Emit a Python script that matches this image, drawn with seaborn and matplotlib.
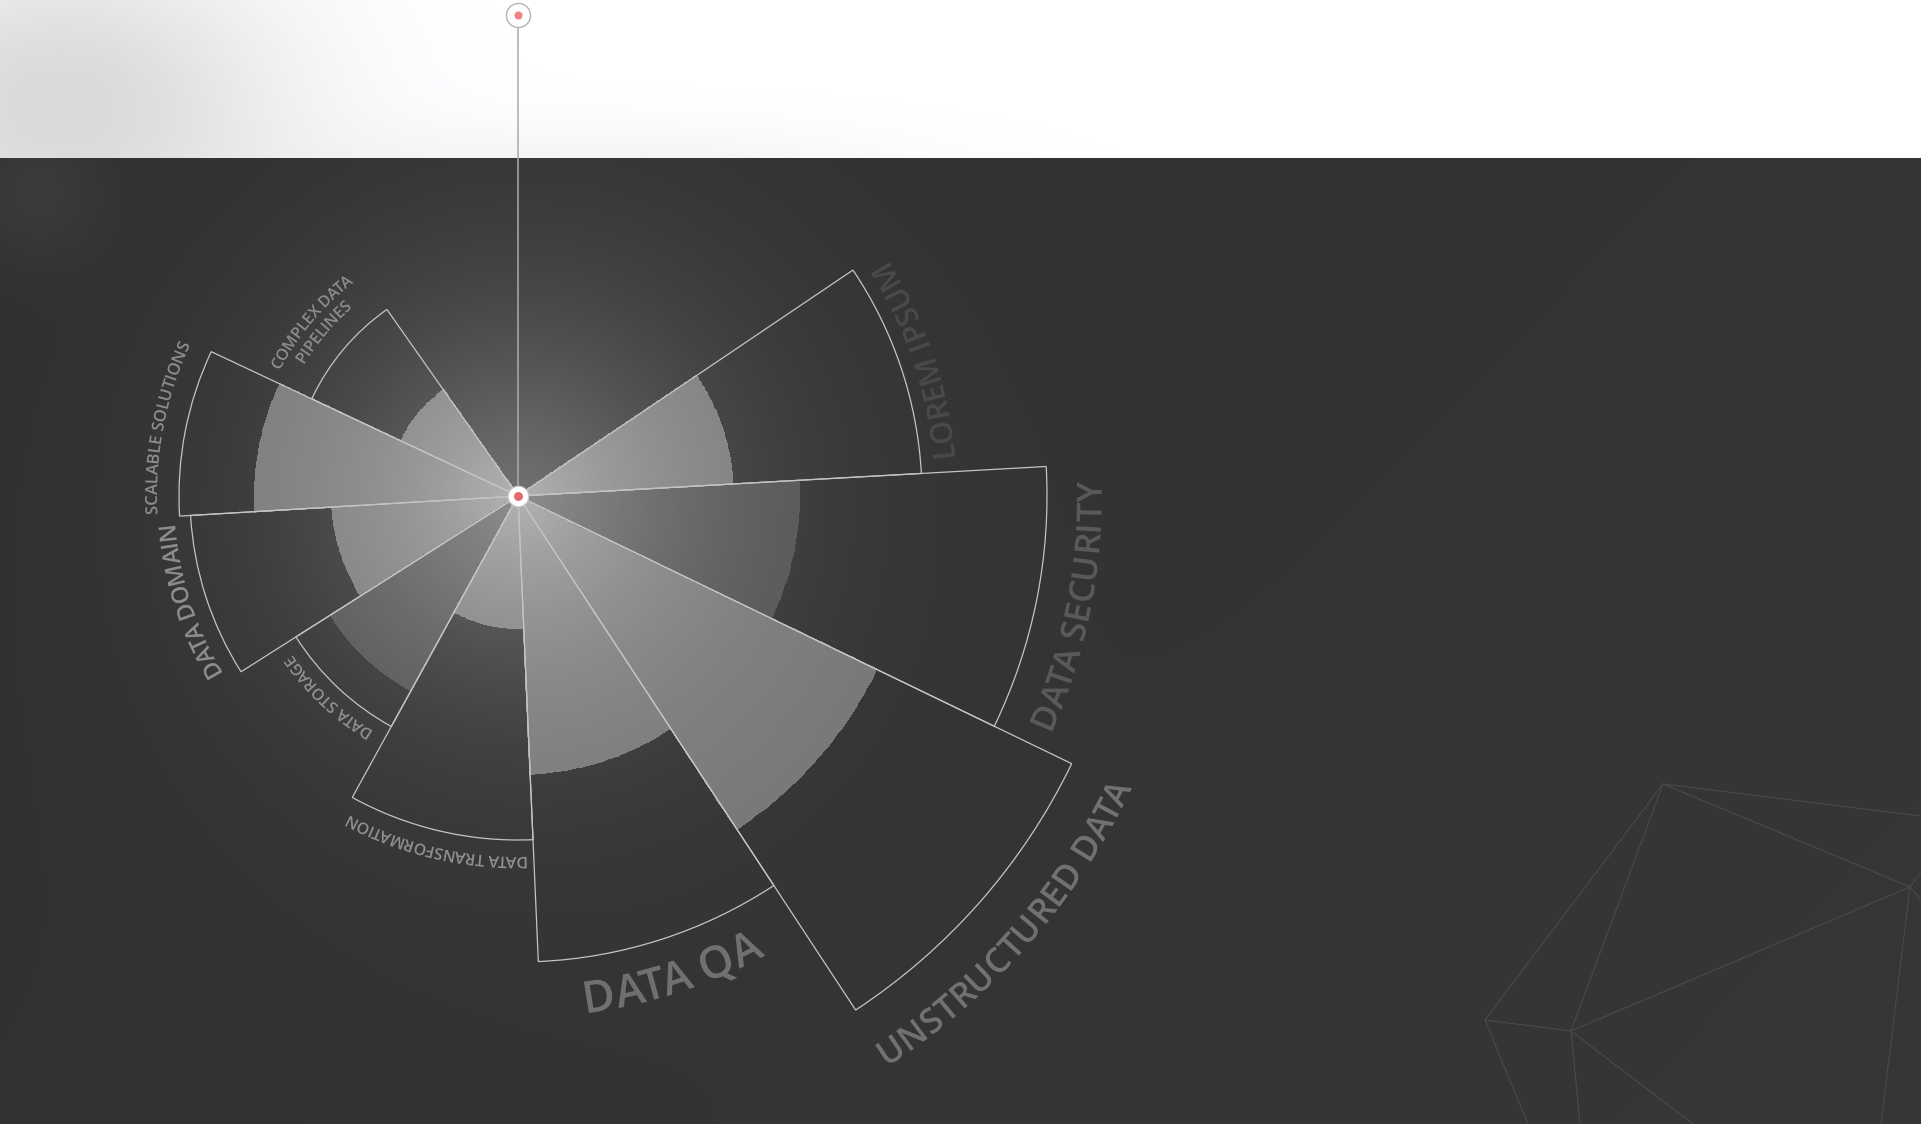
import numpy as np
import matplotlib
matplotlib.use("Agg")
import matplotlib.pyplot as plt
import matplotlib.patheffects as pe
import seaborn as sns
from matplotlib.font_manager import FontProperties
from matplotlib.textpath import TextPath

# categories, counter-clockwise starting from the upper left
categories = ["COMPLEX DATA\nPIPELINES", "SCALABLE SOLUTIONS", "DATA DOMAIN",
              "DATA STORAGE", "DATA TRANSFORMATION", "DATA QA",
              "UNSTRUCTURED DATA", "DATA SECURITY", "LOREM IPSUM"]
# sector edges (degrees, 0 = east, counter-clockwise)
edges_deg = [125.1, 154.8, 183.4, 212.4, 241.2, 272.5, 303.3, 334.2, 363.2, 394.0]
# outer value (outlined wedge) and inner value (filled wedge)
outer_vals = [228, 339, 328, 263, 344, 466, 615, 529, 404]
inner_vals = [129, 263, 186, 222, 132, 278, 398, 281, 215]

# label styles
label_sizes = [11.5, 12, 17, 11.5, 11.5, 32, 25, 25, 22]
label_pads = [23, 22, 16, 13, 17, 24, 40, 30, 13]
label_colors = ["#8b8c8e", "#8b8c8e", "#8b8c8e", "#8e8f90", "#8e8f90",
                "#6f7072", "#707173", "#58595b", "#48494b"]
fill_strength = [1, 1, 1, 0.45, 1, 1, 1, 0.45, 1]

W, H, DPI = 1921, 1124, 100
CX, CY = 518, 496        # chart centre in pixels
RMAX = 700               # radial axis limit (1 unit = 1 px)
PIN_R = 481              # top pin on the vertical line
BAND = 158               # height of white band

sns.set_theme(style="dark")
plt.rcParams["font.family"] = ["Open Sans", "DejaVu Sans"]

fig = plt.figure(figsize=(W / DPI, H / DPI), dpi=DPI)


def glow(r):
    return 0.2 + 0.24 * np.exp(-(r / 200) ** 1.5)


def bright(r):
    return 0.44 + 0.27 * np.exp(-r / 200)


# ---- background ----
bg = fig.add_axes([0, 0, 1, 1])
yy, xx = np.mgrid[0:H, 0:W].astype(float)
dist = np.hypot(xx - CX, yy - CY)
dark = glow(dist) - 0.014 + 0.018 * (xx / W) + 0.01 * (yy / H)
dark += 0.04 * np.exp(-((xx - 35) ** 2 + (yy - 190) ** 2) / (2 * 50 ** 2))
light = 1 - 0.15 * np.exp(-((xx - 60) / 230) ** 2 - ((yy - 105) / 160) ** 2)
light -= 0.06 * np.exp(-((xx - 600) / 320) ** 2 - ((yy - 190) / 60) ** 2)
val = np.where(yy < BAND, light, dark)
img = np.dstack([val, val * 1.003, val * 1.012]).clip(0, 1)
bg.imshow(img, extent=(0, W, H, 0), aspect="auto", interpolation="bilinear")
bg.set_xlim(0, W)
bg.set_ylim(H, 0)
bg.axis("off")

# faint low-poly decoration, bottom right
poly_lines = [((1663, 784), (1921, 816)), ((1663, 784), (1910, 887)),
              ((1663, 784), (1485, 1020)), ((1663, 784), (1571, 1031)),
              ((1485, 1020), (1571, 1031)), ((1571, 1031), (1910, 887)),
              ((1485, 1020), (1528, 1124)), ((1571, 1031), (1580, 1124)),
              ((1571, 1031), (1693, 1124)), ((1910, 887), (1881, 1124)),
              ((1910, 887), (1921, 872)), ((1910, 887), (1921, 900))]
for (x0, y0), (x1, y1) in poly_lines:
    bg.plot([x0, x1], [y0, y1], color="#4a4a4a", lw=0.8)

# ---- polar chart ----
ax = fig.add_axes([(CX - RMAX) / W, (H - CY - RMAX) / H, 2 * RMAX / W, 2 * RMAX / H],
                  projection="polar")
ax.set_theta_zero_location("E")
ax.set_ylim(0, RMAX)
ax.set_axis_off()

fill_cmap = sns.blend_palette(["#000000", "#fbfcff"], as_cmap=True)

mids = []
for i, cat in enumerate(categories):
    t0, t1 = np.radians(edges_deg[i]), np.radians(edges_deg[i + 1])
    mids.append((t0 + t1) / 2)
    th = np.linspace(t0, t1, 41)
    rr = np.linspace(0, inner_vals[i], 81)
    rc = (rr[:-1] + rr[1:]) / 2
    v = glow(rc) + fill_strength[i] * (bright(rc) - glow(rc))
    ax.pcolormesh(th, rr, np.tile(v[:, None], (1, 40)), cmap=fill_cmap, vmin=0, vmax=1,
                  shading="flat", edgecolors="face", linewidth=0.3, zorder=2)
    ax.bar((t0 + t1) / 2, outer_vals[i], width=t1 - t0, bottom=0, fill=False,
           edgecolor="#c4c4c4", linewidth=0.9, zorder=3)

# vertical line and pins
ax.plot([np.pi / 2, np.pi / 2], [0, PIN_R], color="#ababab", lw=1.1, zorder=4, clip_on=False)
ax.scatter([np.pi / 2], [PIN_R], s=300, facecolor="white", edgecolor="#b4b4b4",
           linewidth=1.0, zorder=5, clip_on=False)
ax.scatter([np.pi / 2], [PIN_R], s=34, color="#f08385", linewidth=0, zorder=6, clip_on=False)
ax.scatter([0], [0], s=215, facecolor="white", edgecolor="#cfcfcf", linewidth=0.8, zorder=5)
ax.scatter([0], [0], s=42, color="#e06c70", linewidth=0, zorder=6)


# ---- curved labels: one text per letter, placed along the arc ----
def glyph_centres(line, prop, size_px):
    # ink centre of every letter in the kerned layout of the whole line
    centres = []
    n_prev = 0
    for j in range(len(line)):
        verts = TextPath((0, 0), line[:j + 1], size=size_px, prop=prop).vertices
        new = verts[n_prev:]
        n_prev = len(verts)
        centres.append((new[:, 0].min() + new[:, 0].max()) / 2 if len(new) else None)
    allx = TextPath((0, 0), line, size=size_px, prop=prop).vertices[:, 0]
    mid = (allx.min() + allx.max()) / 2
    return [None if c is None else c - mid for c in centres]


def curved_label(text, theta, r_edge, size, color, pad):
    prop = FontProperties(family="Open Sans", weight="semibold", size=size)
    size_px = size * DPI / 72
    cap = 0.714 * size_px
    flip = np.cos(theta) < 0          # left half: letters point outward
    lines = text.split("\n")
    n = len(lines)
    for k, line in enumerate(lines):
        if flip:
            base = r_edge + pad + (n - 1 - k) * 1.15 * size_px
            rmid = base + cap / 2
        else:
            base = r_edge + pad + cap + k * 1.15 * size_px
            rmid = base - cap / 2
        for c, s in zip(line, glyph_centres(line, prop, size_px)):
            if c == " " or s is None:
                continue
            ang = theta - s / rmid if flip else theta + s / rmid
            rot = np.degrees(ang) - 90 if flip else np.degrees(ang) + 90
            # drawn as outlines (path effect) so rotated letters keep their place
            ax.text(ang, base, c, fontproperties=prop, color=color, rotation=rot % 360,
                    rotation_mode="anchor", ha="center", va="baseline", zorder=6,
                    path_effects=[pe.Normal()])


for i, cat in enumerate(categories):
    curved_label(cat, mids[i], outer_vals[i], label_sizes[i], label_colors[i], label_pads[i])

fig.savefig("out.png", dpi=DPI)
